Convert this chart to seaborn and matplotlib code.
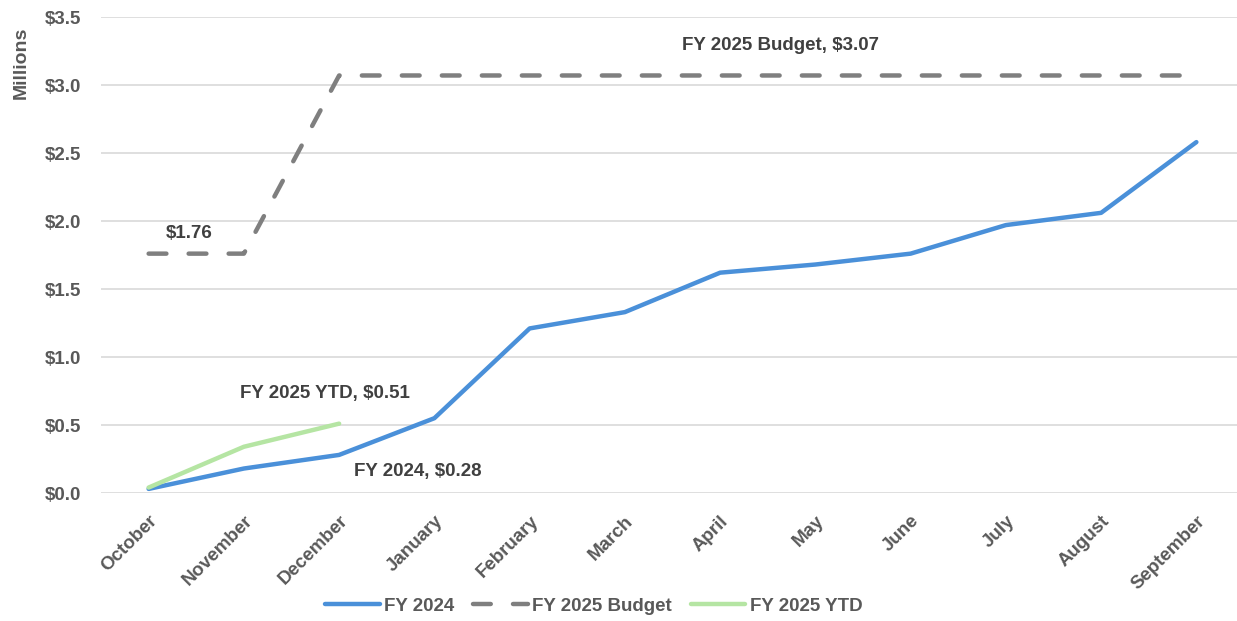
import matplotlib
matplotlib.use("Agg")
import matplotlib.pyplot as plt
import seaborn as sns
import pandas as pd
from matplotlib.ticker import FuncFormatter
from matplotlib.lines import Line2D

months = ["October", "November", "December", "January", "February", "March",
          "April", "May", "June", "July", "August", "September"]
fy2024 = [0.03, 0.18, 0.28, 0.55, 1.21, 1.33, 1.62, 1.68, 1.76, 1.97, 2.06, 2.58]
budget = [1.76, 1.76, 3.07, 3.07, 3.07, 3.07, 3.07, 3.07, 3.07, 3.07, 3.07, 3.07]
ytd = [0.04, 0.34, 0.51]
series_names = ["FY 2024", "FY 2025 Budget", "FY 2025 YTD"]
y_ticks = [0.0, 0.5, 1.0, 1.5, 2.0, 2.5, 3.0, 3.5]

sns.set_style("white")
FONT = ["Liberation Sans", "DejaVu Sans"]
plt.rcParams["font.family"] = FONT
TXT = "#595959"

rows = []
for m, v in zip(months, fy2024):
    rows.append((m, v, series_names[0]))
for m, v in zip(months, budget):
    rows.append((m, v, series_names[1]))
for m, v in zip(months[:len(ytd)], ytd):
    rows.append((m, v, series_names[2]))
df = pd.DataFrame(rows, columns=["month", "value", "series"])
df["x"] = df["month"].map({m: i for i, m in enumerate(months)})

fig = plt.figure(figsize=(12.37, 6.21), dpi=100)
ax = fig.add_axes([101 / 1237, 1 - 493 / 621, 1143 / 1237, (493 - 17) / 621])

palette = {"FY 2024": "#4a90d9", "FY 2025 Budget": "#7f7f7f", "FY 2025 YTD": "#b5e5a3"}
sns.lineplot(data=df, x="x", y="value", hue="series", palette=palette,
             hue_order=series_names, ax=ax, linewidth=3.2, legend=False)
lines = ax.get_lines()
lines[1].set_dashes([4.0, 5.0])
lines[1].set_dash_capstyle("round")
for ln in lines:
    ln.set_solid_capstyle("round")

ax.set_xlim(-0.5, 11.5)
ax.set_ylim(0, 3.5)
ax.set_yticks(y_ticks)
ax.yaxis.set_major_formatter(FuncFormatter(lambda v, p: f"${v:.1f}"))
ax.set_xticks(range(len(months)))
ax.set_xticklabels(months, rotation=45, ha="right", rotation_mode="anchor")
ax.tick_params(axis="both", length=0, labelsize=13.5, labelcolor=TXT)
ax.tick_params(axis="y", pad=14)
ax.tick_params(axis="x", pad=14)
for lab in ax.get_xticklabels() + ax.get_yticklabels():
    lab.set_fontweight("bold")
ax.grid(axis="y", color="#d9d9d9", linewidth=1.2)
ax.set_axisbelow(True)
for s in ax.spines.values():
    s.set_visible(False)
ax.set_xlabel("")
ax.set_ylabel("Millions", fontsize=14, fontweight="bold", color=TXT)
ax.yaxis.set_label_coords(-0.062, 0.903)

tk = dict(fontsize=13.5, fontweight="bold", color="#404040")
ax.text(6.63, 3.29, f"FY 2025 Budget, ${budget[-1]:.2f}", ha="center", va="center", **tk)
ax.text(0.43, 1.91, f"${budget[0]:.2f}", ha="center", va="center", **tk)
ax.text(1.85, 0.73, f"FY 2025 YTD, ${ytd[-1]:.2f}", ha="center", va="center", **tk)
ax.text(2.16, 0.16, f"FY 2024, ${fy2024[2]:.2f}", ha="left", va="center", **tk)

handles = [Line2D([], [], color=palette[s], linewidth=3.2) for s in series_names]
handles[1].set_dashes([4.0, 5.0])
handles[1].set_dash_capstyle("round")
for h in handles:
    h.set_solid_capstyle("round")
leg = fig.legend(handles, series_names, loc="center", bbox_to_anchor=(594 / 1237, 1 - 606 / 621),
                 ncol=3, frameon=False, handlelength=2.9, columnspacing=1.0,
                 handletextpad=0.25, prop={"size": 13.5, "weight": "bold"})
for t in leg.get_texts():
    t.set_color(TXT)

fig.savefig("out.png", dpi=100)
